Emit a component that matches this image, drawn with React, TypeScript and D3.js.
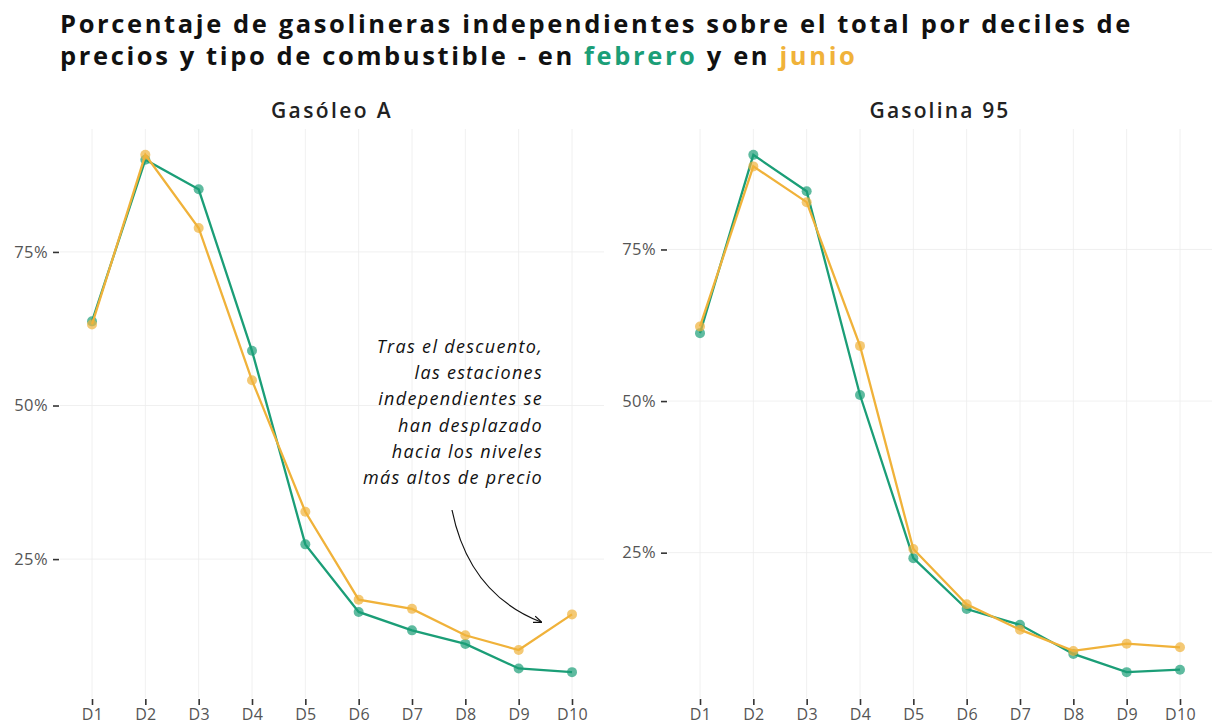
import React, { useRef, useEffect } from "react";
import * as d3 from "d3";

// deciles de precio
const deciles = ["D1", "D2", "D3", "D4", "D5", "D6", "D7", "D8", "D9", "D10"];

// Gasóleo A (% independientes)
const gasoleoFebrero = [63.7, 90.0, 85.2, 58.9, 27.4, 16.4, 13.4, 11.2, 7.2, 6.6];
const gasoleoJunio = [63.2, 90.8, 78.9, 54.1, 32.7, 18.4, 16.9, 12.6, 10.2, 16.0];

// Gasolina 95 (% independientes)
const gasolinaFebrero = [61.2, 90.6, 84.6, 51.0, 24.1, 15.7, 13.1, 8.3, 5.3, 5.7];
const gasolinaJunio = [62.3, 88.7, 82.8, 59.1, 25.6, 16.5, 12.3, 8.8, 10.0, 9.4];

const yTicks = [25, 50, 75];

const annotationLines = [
	"Tras el descuento,",
	"las estaciones",
	"independientes se",
	"han desplazado",
	"hacia los niveles",
	"más altos de precio",
];

const GREEN = "#1b9e77";
const YELLOW = "#f0b23a";
const FONT = "'Open Sans', 'Noto Sans', sans-serif";

// widen a text with letter spacing so it spans the width measured on the reference
const spreadTo = (sel: any, node: SVGTextContentElement, target: number) => {
	const w = node.getComputedTextLength();
	const n = node.getNumberOfChars();
	if (w > 0 && n > 1) sel.attr("letter-spacing", (target - w) / n);
};

const App = () => {
	const ref = useRef<SVGSVGElement>(null);
	const width = 1213;
	const height = 727;

	useEffect(() => {
		document.body.style.margin = "0";
		const svg = d3.select(ref.current);
		svg.selectAll("*").remove();

		svg.append("rect").attr("width", width).attr("height", height).attr("fill", "#fff");

		// title
		const title = svg
			.append("text")
			.attr("font-family", FONT)
			.attr("font-weight", 700)
			.attr("font-size", 25.5)
			.attr("fill", "#111");
		const l1 = title
			.append("tspan")
			.attr("x", 60)
			.attr("y", 33)
			.text("Porcentaje de gasolineras independientes sobre el total por deciles de");
		const l2 = title.append("tspan").attr("x", 60).attr("y", 65);
		l2.append("tspan").text("precios y tipo de combustible - en ");
		l2.append("tspan").attr("fill", GREEN).text("febrero");
		l2.append("tspan").text(" y en ");
		l2.append("tspan").attr("fill", YELLOW).text("junio");
		spreadTo(title, l1.node() as SVGTSpanElement, 1073);

		const panels = [
			{ name: "Gasóleo A", x0: 60, x1: 604, feb: gasoleoFebrero, jun: gasoleoJunio },
			{ name: "Gasolina 95", x0: 668, x1: 1212, feb: gasolinaFebrero, jun: gasolinaJunio },
		];
		const top = 129;
		const bottom = 698;

		panels.forEach((p, i) => {
			const xScale = d3.scalePoint().domain(deciles).range([p.x0, p.x1]).padding(0.6);
			const all = p.feb.concat(p.jun);
			const lo = d3.min(all) as number;
			const hi = d3.max(all) as number;
			const pad = (hi - lo) * 0.05;
			const yScale = d3.scaleLinear().domain([lo - pad, hi + pad]).range([bottom, top]);

			const g = svg.append("g");

			// facet title
			const ft = g
				.append("text")
				.attr("x", (p.x0 + p.x1) / 2)
				.attr("y", 118)
				.attr("text-anchor", "middle")
				.attr("font-family", FONT)
				.attr("font-size", 21)
				.attr("font-weight", 600)
				.attr("fill", "#222")
				.text(p.name);
			spreadTo(ft, ft.node() as SVGTextElement, i === 0 ? 122 : 141);

			// grid
			g.selectAll(".vgrid")
				.data(deciles)
				.enter()
				.append("line")
				.attr("x1", (d) => xScale(d) as number)
				.attr("x2", (d) => xScale(d) as number)
				.attr("y1", top)
				.attr("y2", bottom)
				.attr("stroke", "#ececec")
				.attr("stroke-width", 0.8);
			g.selectAll(".hgrid")
				.data(yTicks)
				.enter()
				.append("line")
				.attr("x1", p.x0)
				.attr("x2", p.x1)
				.attr("y1", (d) => yScale(d))
				.attr("y2", (d) => yScale(d))
				.attr("stroke", "#ececec")
				.attr("stroke-width", 0.8);

			// y axis
			const yAxis = d3
				.axisLeft(yScale)
				.tickValues(yTicks)
				.tickSize(6)
				.tickPadding(5)
				.tickFormat((d) => `${d}%`);
			const ya = g.append("g").attr("transform", `translate(${p.x0 - 1},0)`).call(yAxis);
			ya.select(".domain").remove();
			ya.selectAll("line").attr("stroke", "#333").attr("stroke-width", 1.6);
			ya.selectAll("text")
				.attr("font-family", FONT)
				.attr("font-size", 16.5)
				.attr("letter-spacing", 0.4)
				.attr("fill", "#555");

			// x axis
			const xAxis = d3.axisBottom(xScale).tickSize(6).tickPadding(4);
			const xa = g.append("g").attr("transform", `translate(0,${bottom + 1})`).call(xAxis);
			xa.select(".domain").remove();
			xa.selectAll("line").attr("stroke", "#333").attr("stroke-width", 1.6);
			xa.selectAll("text")
				.attr("font-family", FONT)
				.attr("font-size", 16)
				.attr("letter-spacing", 0.3)
				.attr("fill", "#555");

			const line = d3
				.line<number>()
				.x((d, j) => xScale(deciles[j]) as number)
				.y((d) => yScale(d));

			[
				{ values: p.feb, color: GREEN },
				{ values: p.jun, color: YELLOW },
			].forEach((s) => {
				g.append("path")
					.datum(s.values)
					.attr("d", line)
					.attr("fill", "none")
					.attr("stroke", s.color)
					.attr("stroke-width", 2.3);
				g.selectAll(null)
					.data(s.values)
					.enter()
					.append("circle")
					.attr("cx", (d, j) => xScale(deciles[j]) as number)
					.attr("cy", (d) => yScale(d))
					.attr("r", 5)
					.attr("fill", s.color)
					.attr("fill-opacity", 0.7);
			});

			// annotation on first panel
			if (i === 0) {
				const ann = g
					.append("text")
					.attr("text-anchor", "end")
					.attr("font-family", FONT)
					.attr("font-style", "italic")
					.attr("font-size", 18)
					.attr("fill", "#111");
				const spans = annotationLines.map((t, k) =>
					ann.append("tspan").attr("x", 543).attr("y", 353 + k * 26.2).text(t)
				);
				spreadTo(ann, spans[5].node() as SVGTSpanElement, 180);

				svg.append("defs")
					.append("marker")
					.attr("id", "arrowhead")
					.attr("viewBox", "0 0 10 10")
					.attr("refX", 9)
					.attr("refY", 5)
					.attr("markerWidth", 7)
					.attr("markerHeight", 7)
					.attr("orient", "auto")
					.append("path")
					.attr("d", "M0,1 L10,5 L0,9")
					.attr("fill", "none")
					.attr("stroke", "#111")
					.attr("stroke-width", 1.5);

				const arrow = d3.path();
				arrow.moveTo(452, 510);
				arrow.quadraticCurveTo(469, 594, 541, 622);
				g.append("path")
					.attr("d", arrow.toString())
					.attr("fill", "none")
					.attr("stroke", "#111")
					.attr("stroke-width", 1.2)
					.attr("marker-end", "url(#arrowhead)");
			}
		});
	}, []);

	return <svg ref={ref} width={width} height={height} style={{ display: "block" }} />;
};

export default App;
